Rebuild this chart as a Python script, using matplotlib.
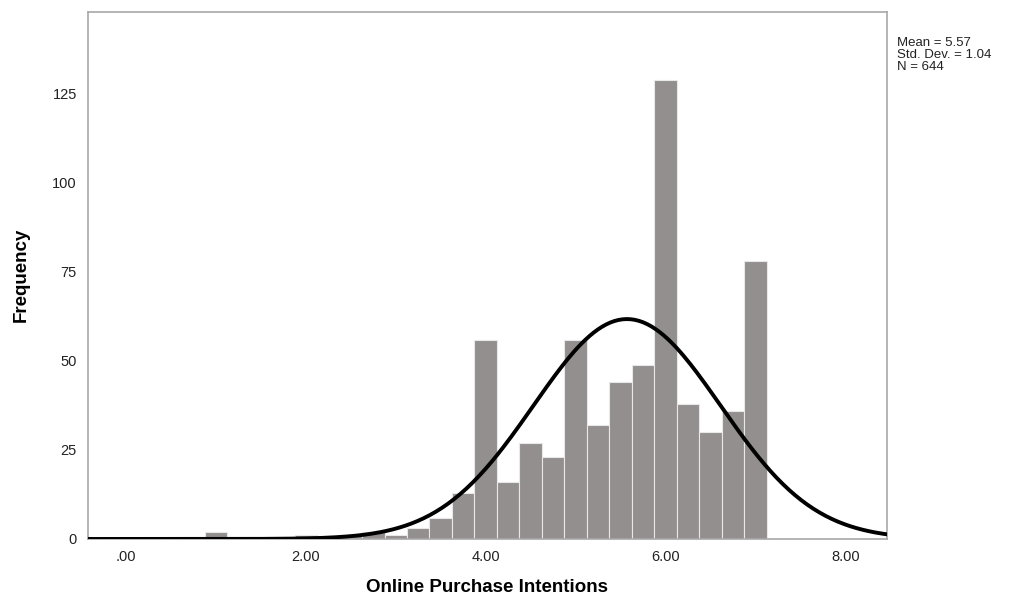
import numpy as np
import matplotlib
matplotlib.use("Agg")
import matplotlib.pyplot as plt

plt.rcParams['font.family'] = ['Liberation Sans', 'DejaVu Sans']

# histogram bins (centres) and counts
centers = [1.00, 2.00, 2.50, 2.75, 3.00, 3.25, 3.50, 3.75, 4.00, 4.25, 4.50, 4.75,
           5.00, 5.25, 5.50, 5.75, 6.00, 6.25, 6.50, 6.75, 7.00]
counts = [2, 1, 1, 2, 1, 3, 6, 13, 56, 16, 27, 23,
          56, 32, 44, 49, 129, 38, 30, 36, 78]
bin_width = 0.25

mean = 5.57
std = 1.04
n = 644

xticks = [0, 2, 4, 6, 8]
xtick_labels = [".00", "2.00", "4.00", "6.00", "8.00"]
yticks = [0, 25, 50, 75, 100, 125]

fig = plt.figure(figsize=(10.12, 5.99), dpi=100)
ax = fig.add_axes([0.087, 0.1002, 0.7895, 0.8798])

ax.bar(centers, counts, width=bin_width, color="#938f8e",
       edgecolor="#e8e8e8", linewidth=0.8, zorder=2)

# normal curve scaled to the histogram
x = np.linspace(-0.5, 8.6, 400)
y = n * bin_width * np.exp(-0.5 * ((x - mean) / std) ** 2) / (std * np.sqrt(2 * np.pi))
ax.plot(x, y, color="black", linewidth=2.8, zorder=3)

ax.set_xlim(-0.42, 8.46)
ax.set_ylim(0, 148)
ax.set_xticks(xticks)
ax.set_xticklabels(xtick_labels)
ax.set_yticks(yticks)
ax.tick_params(length=0, labelsize=10.5, pad=8, colors="#222222")
for s in ax.spines.values():
    s.set_color("#a8a8a8")
    s.set_linewidth(1.2)

fig.text(487 / 1012, 1 - 588 / 599, "Online Purchase Intentions", fontsize=13.5,
         fontweight="bold", ha="center", va="center")
fig.text(21 / 1012, 1 - 275 / 599, "Frequency", fontsize=13.5, fontweight="bold",
         rotation=90, ha="center", va="center")

fig.text(0.886, 0.938, "Mean = 5.57\nStd. Dev. = 1.04\nN = 644",
         fontsize=9.5, va="top", ha="left", linespacing=1.0, color="#222222")

fig.savefig("out.png", dpi=100)
